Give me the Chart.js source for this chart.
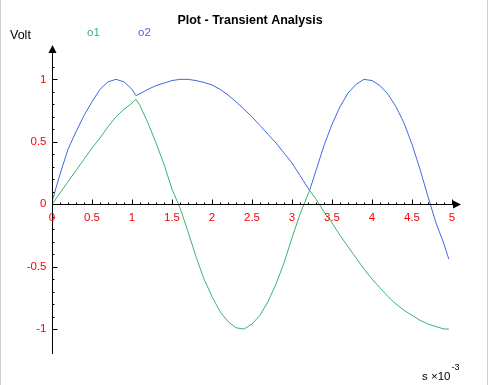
<!DOCTYPE html>
<html><head><meta charset="utf-8">
<script src="https://cdn.jsdelivr.net/npm/chart.js@4/dist/chart.umd.min.js"></script>
<style>html,body{margin:0;padding:0;background:#fff;} #wrap{width:488px;height:385px;position:relative;}</style>
</head><body><div id="wrap"><canvas id="c" width="488" height="385"></canvas></div>
<script>
const xs = [0,0.1,0.2,0.3,0.4,0.5,0.6,0.7,0.8,0.9,1.0,1.05,1.1,1.2,1.3,1.4,1.5,1.6,1.7,1.8,1.9,2.0,2.1,2.2,2.3,2.4,2.5,2.6,2.7,2.8,2.9,3.0,3.1,3.2,3.22,3.3,3.4,3.5,3.6,3.7,3.8,3.9,4.0,4.1,4.2,4.3,4.4,4.5,4.6,4.7,4.8,4.9,4.96];
const o1 = [0,0.09,0.18,0.27,0.36,0.45,0.53,0.62,0.70,0.76,0.81,0.84,0.79,0.65,0.49,0.32,0.12,-0.03,-0.22,-0.42,-0.60,-0.74,-0.86,-0.94,-0.99,-1.0,-0.96,-0.89,-0.78,-0.64,-0.47,-0.27,-0.08,0.08,0.11,0.04,-0.06,-0.15,-0.25,-0.34,-0.43,-0.52,-0.60,-0.67,-0.74,-0.80,-0.85,-0.89,-0.93,-0.96,-0.98,-1.0,-1.0];
const o2 = [0.02,0.24,0.44,0.58,0.71,0.82,0.92,0.98,1.0,0.98,0.92,0.87,0.885,0.92,0.95,0.97,0.99,1.0,1.0,0.99,0.975,0.955,0.92,0.875,0.82,0.76,0.70,0.63,0.56,0.49,0.41,0.33,0.23,0.13,0.11,0.27,0.47,0.64,0.78,0.89,0.96,1.0,0.99,0.95,0.88,0.78,0.65,0.48,0.28,0.06,-0.15,-0.32,-0.44];
const xTickValues = [0,0.5,1,1.5,2,2.5,3,3.5,4,4.5,5];
const xTickLabels = ['0','0.5','1','1.5','2','2.5','3','3.5','4','4.5','5'];
const yTickValues = [-1,-0.5,0,0.5,1];
const yTickLabels = ['-1','-0.5','0','0.5','1'];
const seriesNames = ['o1','o2'];
const seriesColors = ['#3cb371','#4169e1'];
const titleText = 'Plot - Transient Analysis';
const yTitle = 'Volt';
const xTitle = 's \u00d710';
const xTitleExp = '-3';

const FONT = '"Liberation Sans", Arial, sans-serif';

const axesPlugin = {
  id: 'axesPlugin',
  afterDatasetsDraw(chart) {
    const ctx = chart.ctx;
    const xs_ = chart.scales.x, ys_ = chart.scales.y;
    const x0 = Math.round(xs_.getPixelForValue(0)) + 0.5;
    const y0 = Math.round(ys_.getPixelForValue(0)) + 0.5;
    const yBot = Math.round(ys_.getPixelForValue(ys_.min));
    const yTop = Math.round(ys_.getPixelForValue(ys_.max));
    const xEnd = Math.round(xs_.getPixelForValue(xs_.max));
    ctx.save();
    // borders
    ctx.strokeStyle = '#d0d0d0';
    ctx.lineWidth = 1;
    ctx.beginPath();
    ctx.moveTo(0.5, 0); ctx.lineTo(0.5, 385);
    ctx.moveTo(487.5, 0); ctx.lineTo(487.5, 385);
    ctx.stroke();
    // axes
    ctx.strokeStyle = '#000';
    ctx.fillStyle = '#000';
    ctx.beginPath();
    ctx.moveTo(x0, yBot); ctx.lineTo(x0, yTop + 7);
    ctx.moveTo(x0, y0); ctx.lineTo(xEnd - 7, y0);
    ctx.stroke();
    // arrows
    ctx.beginPath();
    ctx.moveTo(x0, yTop); ctx.lineTo(x0 - 4, yTop + 8); ctx.lineTo(x0 + 4, yTop + 8); ctx.closePath();
    ctx.fill();
    ctx.beginPath();
    ctx.moveTo(xEnd + 1, y0); ctx.lineTo(xEnd - 7, y0 - 4); ctx.lineTo(xEnd - 7, y0 + 4); ctx.closePath();
    ctx.fill();
    // x ticks
    ctx.beginPath();
    for (let k = 0; k <= 50; k++) {
      const px = Math.round(xs_.getPixelForValue(k / 10)) + 0.5;
      const len = (k % 5 === 0) ? 5 : 2;
      ctx.moveTo(px, y0); ctx.lineTo(px, y0 - len);
    }
    // y ticks
    for (let k = -10; k <= 11; k++) {
      const py = Math.round(ys_.getPixelForValue(k / 10)) + 0.5;
      const len = (k % 5 === 0) ? 5 : 2;
      ctx.moveTo(x0, py); ctx.lineTo(x0 + len, py);
    }
    ctx.stroke();
    // tick labels
    ctx.font = '11.5px ' + FONT;
    ctx.fillStyle = '#ff0000';
    ctx.textAlign = 'center';
    ctx.textBaseline = 'middle';
    xTickValues.forEach((v, i) => {
      ctx.fillText(xTickLabels[i], xs_.getPixelForValue(v), y0 + 13.5);
    });
    ctx.textAlign = 'right';
    yTickValues.forEach((v, i) => {
      ctx.fillText(yTickLabels[i], x0 - 6, ys_.getPixelForValue(v));
    });
    // title
    ctx.fillStyle = '#000';
    ctx.font = 'bold 12.5px ' + FONT;
    ctx.textAlign = 'center';
    ctx.fillText(titleText, 250, 20.5);
    // y title
    ctx.font = '12.5px ' + FONT;
    ctx.textAlign = 'left';
    ctx.fillText(yTitle, 10, 35.5);
    // legend
    ctx.font = '11.5px ' + FONT;
    const legX = [87, 138];
    seriesNames.forEach((n, i) => {
      ctx.fillStyle = seriesColors[i];
      ctx.fillText(n, legX[i], 33);
    });
    // x title
    ctx.fillStyle = '#000';
    ctx.font = '11.5px ' + FONT;
    ctx.fillText(xTitle, 422, 377);
    const w = ctx.measureText(xTitle).width;
    ctx.font = '9px ' + FONT;
    ctx.fillText(xTitleExp, 422 + w + 1, 368);
    ctx.restore();
  }
};

new Chart(document.getElementById('c'), {
  type: 'line',
  data: {
    datasets: [o1, o2].map((arr, i) => ({
      label: seriesNames[i],
      data: xs.map((x, j) => ({x: x, y: arr[j]})),
      borderColor: seriesColors[i],
      backgroundColor: seriesColors[i],
      borderWidth: 1,
      pointRadius: 0,
      tension: 0,
      fill: false
    }))
  },
  options: {
    responsive: false,
    animation: false,
    devicePixelRatio: 1,
    layout: { padding: { left: 52, right: 28, top: 45, bottom: 31 } },
    scales: {
      x: { type: 'linear', min: 0, max: 5.1, display: false },
      y: { type: 'linear', min: -1.2, max: 1.275, display: false }
    },
    plugins: { legend: { display: false }, tooltip: { enabled: false }, title: { display: false } }
  },
  plugins: [axesPlugin]
});
</script>
</body></html>
